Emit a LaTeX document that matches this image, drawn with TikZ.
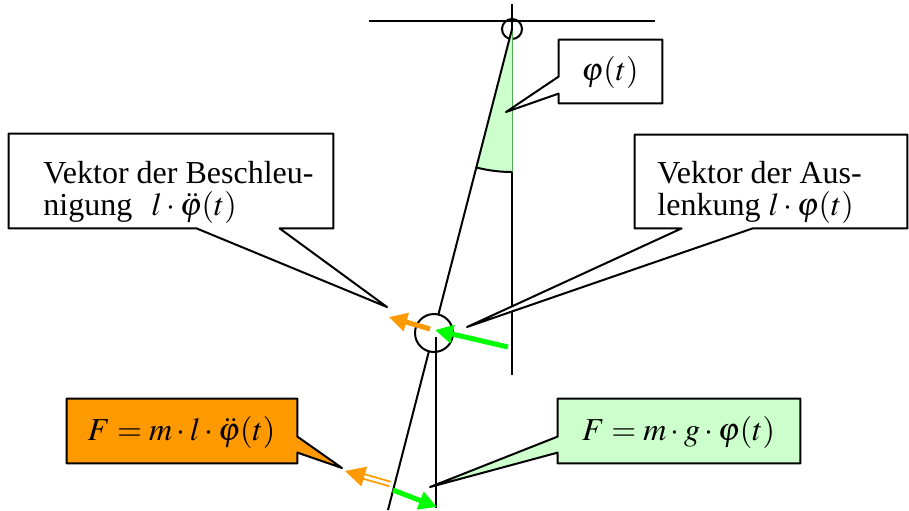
\documentclass[tikz,border=0pt]{standalone}
\usepackage{mathptmx}
\usepackage{fontspec}
\setmainfont{Liberation Serif}
\usetikzlibrary{arrows.meta, calc}

\definecolor{forceorange}{HTML}{FF9900}
\definecolor{palegreen}{HTML}{CCFFCC}
\definecolor{vecgreen}{HTML}{00FF00}

\begin{document}
\begin{tikzpicture}[x=0.5pt, y=-0.5pt,
        box/.style={rectangle, inner sep=0pt},
        callout/.style={draw, line width=1pt, line join=round, fill=#1},
        lbl/.style={inner sep=0pt, font=\fontsize{16}{16}\selectfont},
        rod/.style={line width=1pt},
        vec/.style={line width=2.5pt, draw=#1, -{Triangle[length=9pt, width=9pt]}},
        dvec/.style={line width=0.9pt, draw=#1, double=white, double distance=1.4pt, -{Triangle[length=10pt, width=10pt]}}
    ]
        \useasboundingbox (0,0) rectangle (909,510);

        % Suspension and angle
        \node[circle, draw, line width=1pt, minimum size=10pt, inner sep=0pt] (pivot) at (512,29) {};
        \coordinate (ceiling1) at (369,21);
        \coordinate (ceiling2) at (655,21);
        \coordinate (plumbtop) at (512,4);
        \fill[palegreen] (pivot.center) -- ++(104.4:143) arc[start angle=104.4, end angle=90, radius=143] -- cycle;
        \draw[line width=0.4pt, green!35!gray] (pivot.center) -- ++(90:143) coordinate (arcend);
        \draw[rod] ($(pivot.center)+(104.4:143)$) arc[start angle=104.4, end angle=90, radius=143];
        \draw[rod] (ceiling1) -- (ceiling2);
        \draw[rod] (plumbtop) -- (pivot.center);
        \coordinate (plumbend) at (512,375);
        \draw[rod] (arcend) -- (plumbend);

        % Callout boxes
        \node[box, minimum width=51.5pt, minimum height=31.5pt] (phibox) at (610.5,71.5) {};
        \coordinate (phitip) at (506,112);
        \draw[callout=white] (phibox.north west) -- (phibox.north east) -- (phibox.south east) -- (phibox.south west)
            -- ($(phibox.north west)+(0,54)$) -- (phitip) -- ($(phibox.north west)+(0,37)$) -- cycle;
        \node[lbl, anchor=base] (phitext) at (610,80) {$\varphi(t)$};

        \node[box, minimum width=162pt, minimum height=47pt] (accbox) at (171,181) {};
        \coordinate (acctip) at (387,307);
        \draw[callout=white] (accbox.north west) -- (accbox.north east) -- (accbox.south east)
            -- ($(accbox.south west)+(271,0)$) -- (acctip) -- ($(accbox.south west)+(188,0)$) -- (accbox.south west) -- cycle;
        \node[lbl, anchor=base west] (acctext1) at (43,183) {Vektor der Beschleu-};
        \node[lbl, anchor=base west] (acctext2) at (43,215) {nigung\hspace{0.6em}$l\cdot\ddot{\varphi}(t)$};

        \node[box, minimum width=136pt, minimum height=46.5pt] (defbox) at (771,181.5) {};
        \coordinate (deftip) at (467,327);
        \draw[callout=white] (defbox.north west) -- (defbox.north east) -- (defbox.south east)
            -- ($(defbox.south west)+(118,0)$) -- (deftip) -- ($(defbox.south west)+(47,0)$) -- (defbox.south west) -- cycle;
        \node[lbl, anchor=base west] (deftext1) at (657,183) {Vektor der Aus-};
        \node[lbl, anchor=base west] (deftext2) at (657,215) {lenkung $l\cdot\varphi(t)$};

        \node[box, minimum width=115pt, minimum height=32pt] (mlbox) at (182,431) {};
        \coordinate (mltip) at (342,468);
        \draw[callout=forceorange] (mlbox.north west) -- (mlbox.north east) -- ($(mlbox.north east)+(0,38)$) -- (mltip)
            -- ($(mlbox.north east)+(0,54)$) -- (mlbox.south east) -- (mlbox.south west) -- cycle;
        \node[lbl, anchor=base] (mltext) at (181.5,440) {$F=m\cdot l\cdot\ddot{\varphi}(t)$};

        \node[box, minimum width=121pt, minimum height=32pt] (mgbox) at (679,431) {};
        \coordinate (mgtip) at (430,487);
        \draw[callout=palegreen] (mgbox.north west) -- (mgbox.north east) -- (mgbox.south east) -- (mgbox.south west)
            -- ($(mgbox.north west)+(0,54)$) -- (mgtip) -- ($(mgbox.north west)+(0,38)$) -- cycle;
        \node[lbl, anchor=base] (mgtext) at (678.5,440) {$F=m\cdot g\cdot\varphi(t)$};

        % Rod and bob
        \coordinate (rodend) at (388,510);
        \draw[rod] (pivot.center) -- (rodend);
        \node[circle, draw, fill=white, line width=1pt, minimum size=19pt, inner sep=0pt] (bob) at (434,333) {};
        \coordinate (bobplumb1) at (436,337);
        \coordinate (bobplumb2) at (436,508);
        \draw[rod] (bobplumb1) -- (bobplumb2);

        % Vectors
        \coordinate (gtail) at (508,347);
        \coordinate (ghead) at (435,330);
        \coordinate (otail) at (430,329);
        \coordinate (ohead) at (389,317);
        \draw[vec=forceorange] (otail) -- (ohead);
        \draw[vec=vecgreen] (gtail) -- (ghead);
        \coordinate (ftail) at (390,484);
        \coordinate (fhead) at (345,471);
        \draw[dvec=forceorange] (ftail) -- (fhead);
        \coordinate (gftail) at (393,490);
        \coordinate (gfhead) at (437,507);
        \draw[vec=vecgreen] (gftail) -- (gfhead);
    \end{tikzpicture}
\end{document}
